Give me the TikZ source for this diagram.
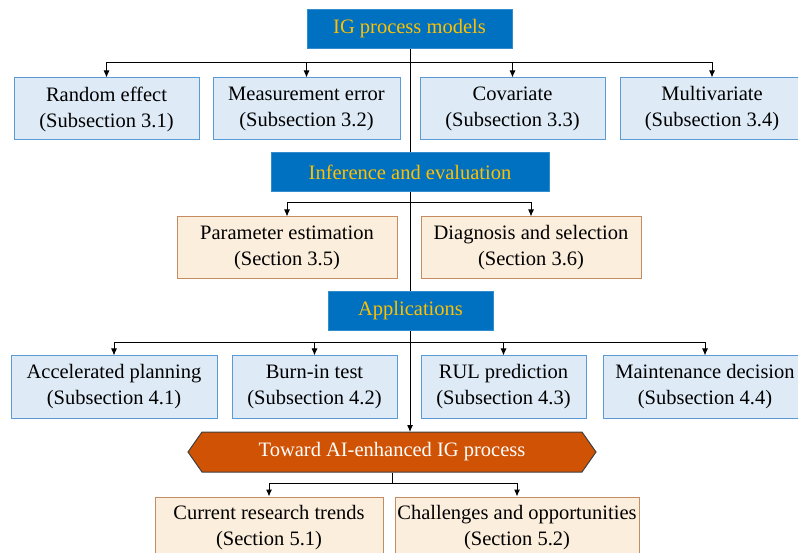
\documentclass[tikz,border=0pt]{standalone}
\usepackage{fontspec}
\setmainfont{Liberation Serif}
\usetikzlibrary{shapes.symbols, arrows.meta}
\definecolor{headblue}{RGB}{0,112,192}
\definecolor{headgold}{RGB}{255,192,0}
\definecolor{boxblue}{RGB}{222,235,247}
\definecolor{lineblue}{RGB}{91,155,213}
\definecolor{boxtan}{RGB}{252,238,220}
\definecolor{linetan}{RGB}{196,140,96}
\definecolor{aiorange}{RGB}{208,82,4}

\begin{document}
\begin{tikzpicture}[x=1pt,y=-1pt,
    font=\fontsize{20.5}{26}\selectfont,
    headbox/.style={draw=headblue!80!white, fill=headblue, text=headgold, minimum height=39pt, inner sep=0pt},
    subbox/.style={draw=lineblue, line width=1pt, fill=boxblue, minimum height=62pt, align=center, inner sep=0pt},
    secbox/.style={draw=linetan, line width=1pt, fill=boxtan, minimum height=62pt, align=center, inner sep=0pt},
    arr/.style={-{Latex[length=7pt,width=6pt]}, line width=1pt},
    link/.style={line width=1pt}]
        % page frame
        \useasboundingbox (0,0) rectangle (798,553);

        % Junction points of the branch lines
        \coordinate (J1) at (410, 63);
        \coordinate (J2) at (410, 203);
        \coordinate (J3) at (410, 343);
        \coordinate (J4) at (392, 483);

        % Main spine (drawn first, boxes sit on top)
        \coordinate (S0) at (410, 48);
        \coordinate (S1) at (410, 432);
        \draw[arr] (S0) -- (S1);

        % Headings
        \node[headbox, minimum width=205pt] (models) at (409.5, 28.5) {IG process models};
        \node[headbox, minimum width=278pt] (infer) at (410, 172) {Inference and evaluation};
        \node[headbox, minimum width=165pt] (appl) at (410.5, 310.5) {Applications};
        \node[shape=signal, signal to=west and east, signal pointer angle=110,
              draw=black!75, line width=1pt, fill=aiorange, text=white,
              minimum width=408pt, minimum height=40pt, inner sep=0pt] (ai) at (392, 452) {Toward AI-enhanced IG process};

        % Models row
        \node[subbox, minimum width=185pt] (rand) at (106.5, 109) {Random effect\\(Subsection 3.1)};
        \node[subbox, minimum width=187pt] (meas) at (306.5, 109) {Measurement error\\(Subsection 3.2)};
        \node[subbox, minimum width=185pt] (cova) at (512.5, 109) {Covariate\\(Subsection 3.3)};
        \node[subbox, minimum width=184pt] (mult) at (712, 109) {Multivariate\\(Subsection 3.4)};

        % Inference row
        \node[secbox, minimum width=220pt] (param) at (287, 248) {Parameter estimation\\(Section 3.5)};
        \node[secbox, minimum width=220pt] (diag) at (531, 248) {Diagnosis and selection\\(Section 3.6)};

        % Applications row
        \node[subbox, minimum width=206pt] (accel) at (114, 387) {Accelerated planning\\(Subsection 4.1)};
        \node[subbox, minimum width=165pt] (burn) at (314.5, 387) {Burn-in test\\(Subsection 4.2)};
        \node[subbox, minimum width=165pt] (rul) at (503.5, 387) {RUL prediction\\(Subsection 4.3)};
        \node[subbox, minimum width=204pt] (maint) at (705, 387) {Maintenance decision\\(Subsection 4.4)};

        % Outlook row
        \node[secbox, minimum width=228pt] (trend) at (269, 528) {Current research trends\\(Section 5.1)};
        \node[secbox, minimum width=244pt] (chall) at (517, 528) {Challenges and opportunities\\(Section 5.2)};

        % Branches
        \draw[arr] (J1) -| (rand.north);
        \draw[arr] (J1) -| (meas.north);
        \draw[arr] (J1) -| (cova.north);
        \draw[arr] (J1) -| (mult.north);

        \draw[arr] (J2) -| (param.north);
        \draw[arr] (J2) -| (diag.north);

        \draw[arr] (J3) -| (accel.north);
        \draw[arr] (J3) -| (burn.north);
        \draw[arr] (J3) -| (rul.north);
        \draw[arr] (J3) -| (maint.north);

        \draw[link] (ai.south) -- (J4);
        \draw[arr] (J4) -| (trend.north);
        \draw[arr] (J4) -| (chall.north);
\end{tikzpicture}
\end{document}
